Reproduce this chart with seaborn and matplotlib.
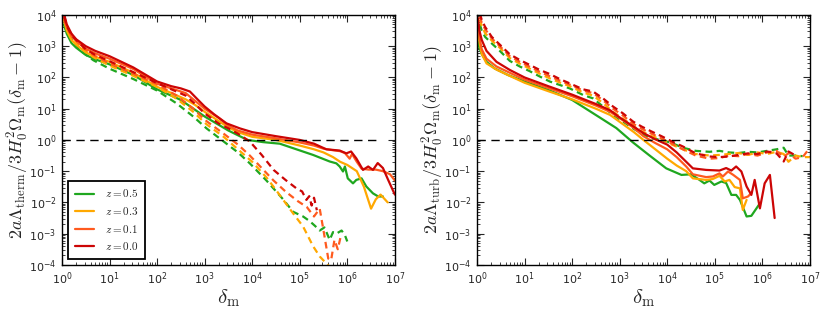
import numpy as np
import pandas as pd
import matplotlib
matplotlib.use("Agg")
import matplotlib.pyplot as plt
import seaborn as sns
from matplotlib.ticker import LogLocator, NullFormatter
from matplotlib.lines import Line2D

# redshift labels and colours
z_labels = ["0.5", "0.3", "0.1", "0.0"]
z_colors = {"0.5": "#1fa71f", "0.3": "#ffa800", "0.1": "#ff5a1e", "0.0": "#cc0505"}

# values, as log10(delta_m) and log10(y)
# ---- left panel: thermal, solid
therm_solid_05_lx = [0.04, 0.1, 0.2, 0.3, 0.5, 0.7, 1.0, 1.5, 2.0, 2.5, 3.0, 3.5, 3.9, 4.23, 4.58, 4.93, 5.28, 5.63,
                     5.77, 5.84, 5.91, 5.95, 6.01, 6.12, 6.19, 6.30, 6.40, 6.54, 6.65, 6.75]
therm_solid_05_ly = [3.7, 3.4, 3.1, 2.95, 2.72, 2.58, 2.42, 2.08, 1.62, 1.28, 0.75, 0.3, 0.0, -0.07, -0.12, -0.3, -0.48,
                     -0.69, -0.75, -0.85, -1.01, -0.85, -1.23, -1.39, -1.28, -1.23, -1.49, -1.71, -1.81, -1.81]
therm_solid_03_lx = [0.04, 0.1, 0.2, 0.3, 0.5, 0.7, 1.0, 1.5, 2.0, 2.3, 2.6, 2.8, 3.0, 3.3, 3.5, 3.7, 4.0, 4.5, 5.0,
                     5.3, 5.5, 5.7, 5.85, 6.0, 6.2, 6.35, 6.5, 6.6, 6.7, 6.85]
therm_solid_03_ly = [3.85, 3.5, 3.2, 3.05, 2.8, 2.66, 2.5, 2.15, 1.7, 1.5, 1.3, 1.12, 0.9, 0.6, 0.4, 0.25, 0.1, 0.0,
                     -0.18, -0.3, -0.4, -0.55, -0.7, -0.8, -1.0, -1.5, -2.2, -1.9, -1.75, -2.0]
therm_solid_01_lx = [0.04, 0.1, 0.2, 0.3, 0.5, 0.7, 1.0, 1.5, 2.0, 2.3, 2.6, 2.8, 3.0, 3.3, 3.5, 3.7, 4.0, 4.5, 5.0,
                     5.3, 5.5, 5.7, 5.85, 5.95, 6.05, 6.1, 6.2, 6.3, 6.45, 6.6, 6.75, 6.9, 7.0]
therm_solid_01_ly = [3.95, 3.62, 3.32, 3.17, 2.92, 2.77, 2.6, 2.27, 1.8, 1.65, 1.5, 1.25, 1.0, 0.7, 0.45, 0.3, 0.17,
                     0.05, -0.08, -0.18, -0.28, -0.33, -0.36, -0.42, -0.6, -0.45, -0.7, -0.92, -0.95, -0.95, -1.0,
                     -1.1, -1.3]
therm_solid_00_lx = [0.04, 0.1, 0.2, 0.3, 0.5, 0.7, 1.0, 1.5, 2.0, 2.3, 2.5, 2.69, 2.85, 3.0, 3.2, 3.46, 3.74, 4.0, 4.5,
                     5.0, 5.3, 5.56, 5.84, 5.98, 6.08, 6.19, 6.33, 6.44, 6.54, 6.64, 6.75, 6.86, 7.0]
therm_solid_00_ly = [4.05, 3.7, 3.4, 3.22, 3.0, 2.85, 2.68, 2.32, 1.87, 1.72, 1.65, 1.55, 1.3, 1.07, 0.82, 0.53, 0.37,
                     0.25, 0.12, 0.0, -0.12, -0.3, -0.34, -0.43, -0.37, -0.59, -0.96, -0.85, -0.96, -0.74, -0.9,
                     -1.28, -1.75]
# ---- left panel: thermal, dashed
therm_dash_05_lx = [0.05, 0.1, 0.24, 0.4, 0.66, 1.0, 1.5, 2.0, 2.41, 2.76, 3.04, 3.4, 3.7, 3.95, 4.3, 4.65, 4.86, 5.07,
                    5.21, 5.32, 5.42, 5.52, 5.63, 5.7, 5.77, 5.88, 5.95, 6.0]
therm_dash_05_ly = [3.7, 3.45, 3.15, 2.85, 2.55, 2.28, 1.95, 1.58, 1.17, 0.75, 0.37, -0.05, -0.4, -0.75, -1.3, -1.9,
                    -2.3, -2.45, -2.6, -2.75, -2.9, -2.8, -3.2, -2.95, -3.0, -2.9, -3.05, -3.25]
therm_dash_03_lx = [0.05, 0.1, 0.24, 0.4, 0.66, 1.0, 1.5, 2.0, 2.41, 2.76, 3.04, 3.4, 3.7, 4.0, 4.3, 4.5, 4.86, 5.07,
                    5.28, 5.42, 5.62]
therm_dash_03_ly = [3.8, 3.55, 3.25, 2.95, 2.65, 2.38, 2.05, 1.7, 1.32, 0.9, 0.5, 0.1, -0.3, -0.7, -1.2, -1.6, -2.35,
                    -2.77, -3.4, -3.73, -4.05]
therm_dash_01_lx = [0.05, 0.1, 0.24, 0.4, 0.66, 1.0, 1.5, 2.0, 2.41, 2.76, 3.04, 3.4, 3.7, 3.95, 4.2, 4.45, 4.7, 4.95,
                    5.15, 5.3, 5.42, 5.5, 5.6, 5.66, 5.73, 5.8, 5.86]
therm_dash_01_ly = [3.85, 3.6, 3.3, 3.0, 2.72, 2.45, 2.12, 1.78, 1.42, 1.0, 0.6, 0.2, -0.15, -0.5, -0.9, -1.3, -1.65,
                    -1.95, -2.15, -2.45, -2.2, -2.9, -3.8, -3.85, -3.2, -3.5, -3.1]
therm_dash_00_lx = [0.05, 0.1, 0.2, 0.3, 0.5, 0.7, 1.0, 1.5, 2.0, 2.3, 2.6, 2.8, 3.0, 3.3, 3.5, 3.7, 3.95, 4.2, 4.45,
                    4.7, 4.93, 5.05, 5.14, 5.2, 5.25, 5.3, 5.36]
therm_dash_00_ly = [3.95, 3.65, 3.35, 3.2, 2.9, 2.72, 2.52, 2.17, 1.82, 1.62, 1.42, 1.15, 0.85, 0.52, 0.37, 0.2, -0.05,
                    -0.48, -0.96, -1.28, -1.55, -1.65, -1.92, -1.8, -2.1, -1.85, -2.25]

# ---- right panel: turbulent, solid
turb_solid_05_lx = [0.02, 0.05, 0.1, 0.2, 0.37, 0.65, 1.0, 1.5, 2.0, 2.58, 2.93, 3.28, 3.63, 3.98, 4.3, 4.5, 4.68,
                    4.78, 4.89, 4.99, 5.14, 5.24, 5.35, 5.45, 5.53, 5.67, 5.77, 5.95]
turb_solid_05_ly = [3.15, 2.95, 2.75, 2.5, 2.29, 2.08, 1.87, 1.6, 1.28, 0.72, 0.38, -0.08, -0.5, -0.91, -1.12, -1.1,
                    -1.28, -1.39, -1.3, -1.44, -1.33, -1.38, -1.76, -1.76, -1.92, -2.45, -2.43, -2.03]
turb_solid_03_lx = [0.02, 0.05, 0.1, 0.2, 0.41, 0.69, 1.0, 1.5, 2.0, 2.5, 2.8, 3.0, 3.3, 3.5, 3.75, 4.0, 4.2, 4.4,
                    4.54, 4.82, 4.96, 5.1, 5.21, 5.31, 5.42, 5.53, 5.59, 5.67]
turb_solid_03_ly = [3.5, 3.15, 2.75, 2.45, 2.25, 2.05, 1.83, 1.56, 1.3, 1.0, 0.8, 0.58, 0.25, 0.0, -0.3, -0.6, -0.82,
                    -1.0, -1.23, -1.28, -1.25, -1.15, -1.33, -1.28, -1.51, -1.55, -2.24, -1.92]
turb_solid_01_lx = [0.02, 0.05, 0.1, 0.2, 0.41, 0.69, 1.0, 1.5, 2.0, 2.5, 2.8, 3.0, 3.3, 3.5, 3.75, 4.0, 4.2, 4.4,
                    4.54, 4.82, 4.96, 5.1, 5.17, 5.28, 5.39, 5.53, 5.59, 5.7, 5.77]
turb_solid_01_ly = [3.75, 3.3, 2.9, 2.6, 2.35, 2.15, 1.93, 1.66, 1.4, 1.1, 0.9, 0.7, 0.38, 0.12, -0.1, -0.3, -0.55,
                    -0.85, -1.1, -1.19, -1.17, -1.07, -1.17, -1.01, -1.12, -1.28, -1.87, -1.81, -1.7]
turb_solid_00_lx = [0.02, 0.05, 0.1, 0.2, 0.41, 0.69, 1.0, 1.5, 2.0, 2.5, 2.8, 3.0, 3.3, 3.5, 3.75, 4.0, 4.2, 4.4,
                    4.54, 4.82, 5.1, 5.24, 5.35, 5.45, 5.56, 5.67, 5.77, 5.84, 5.95, 6.05, 6.16, 6.26]
turb_solid_00_ly = [3.9, 3.5, 3.2, 2.85, 2.5, 2.24, 2.0, 1.72, 1.45, 1.15, 0.95, 0.72, 0.42, 0.22, 0.02, -0.15, -0.4,
                    -0.7, -0.91, -0.96, -0.98, -0.9, -0.98, -0.85, -1.01, -1.49, -1.76, -1.28, -2.19, -1.39, -1.12,
                    -2.5]
# ---- right panel: turbulent, dashed
turb_dash_lx = [0.06, 0.1, 0.17, 0.31, 0.48, 0.69, 0.9, 1.11, 1.32, 1.53, 1.74, 1.95, 2.23, 2.44, 2.65, 2.86, 3.07,
                3.28, 3.46, 3.67, 3.88, 4.1, 4.33, 4.6, 4.89, 5.1, 5.3, 5.5, 5.7, 5.9, 6.1, 6.3, 6.45, 6.55, 6.7,
                6.85, 7.0]
turb_dash_05_ly = [3.7, 3.5, 3.3, 3.09, 2.85, 2.53, 2.35, 2.2, 2.03, 1.87, 1.76, 1.65, 1.44, 1.33, 1.07, 0.8, 0.59,
                   0.37, 0.21, 0.05, 0.0, -0.1, -0.25, -0.35, -0.38, -0.35, -0.4, -0.42, -0.38, -0.4, -0.35, -0.3,
                   -0.25, -0.5, -0.5, -0.52, np.nan]
turb_dash_03_ly = [3.85, 3.65, 3.42, 3.18, 2.95, 2.62, 2.44, 2.28, 2.12, 1.97, 1.84, 1.72, 1.52, 1.42, 1.18, 0.9,
                   0.68, 0.45, 0.28, 0.12, 0.02, -0.15, -0.3, -0.45, -0.5, -0.48, -0.45, -0.42, -0.48, -0.4, -0.45,
                   -0.38, -0.45, -0.7, -0.5, -0.55, -0.55]
turb_dash_01_ly = [3.95, 3.75, 3.55, 3.25, 3.0, 2.68, 2.5, 2.34, 2.18, 2.04, 1.9, 1.77, 1.58, 1.5, 1.27, 1.0, 0.78,
                   0.52, 0.36, 0.2, 0.05, -0.12, -0.3, -0.5, -0.6, -0.58, -0.5, -0.52, -0.45, -0.5, -0.4, -0.35,
                   -0.55, -0.42, -0.6, -0.55, -0.25]
turb_dash_00_ly = [4.05, 3.84, 3.62, 3.3, 3.05, 2.74, 2.56, 2.4, 2.24, 2.11, 1.95, 1.81, 1.62, 1.55, 1.33, 1.07, 0.85,
                   0.59, 0.43, 0.27, 0.12, -0.05, -0.21, -0.43, -0.53, -0.55, -0.53, -0.48, -0.43, -0.45, -0.37,
                   -0.43, -0.69, -0.37, -0.5, np.nan, np.nan]


def long_frame(curves):
    rows = []
    for (z, kind), (lx, ly) in curves.items():
        for a, b in zip(lx, ly):
            if not np.isnan(b):
                rows.append({"x": 10.0 ** a, "y": 10.0 ** b, "z": z, "kind": kind})
    return pd.DataFrame(rows)


therm_df = long_frame({
    ("0.5", "sim"): (therm_solid_05_lx, therm_solid_05_ly),
    ("0.3", "sim"): (therm_solid_03_lx, therm_solid_03_ly),
    ("0.1", "sim"): (therm_solid_01_lx, therm_solid_01_ly),
    ("0.0", "sim"): (therm_solid_00_lx, therm_solid_00_ly),
    ("0.5", "model"): (therm_dash_05_lx, therm_dash_05_ly),
    ("0.3", "model"): (therm_dash_03_lx, therm_dash_03_ly),
    ("0.1", "model"): (therm_dash_01_lx, therm_dash_01_ly),
    ("0.0", "model"): (therm_dash_00_lx, therm_dash_00_ly),
})
turb_df = long_frame({
    ("0.5", "sim"): (turb_solid_05_lx, turb_solid_05_ly),
    ("0.3", "sim"): (turb_solid_03_lx, turb_solid_03_ly),
    ("0.1", "sim"): (turb_solid_01_lx, turb_solid_01_ly),
    ("0.0", "sim"): (turb_solid_00_lx, turb_solid_00_ly),
    ("0.5", "model"): (turb_dash_lx, turb_dash_05_ly),
    ("0.3", "model"): (turb_dash_lx, turb_dash_03_ly),
    ("0.1", "model"): (turb_dash_lx, turb_dash_01_ly),
    ("0.0", "model"): (turb_dash_lx, turb_dash_00_ly),
})

sns.set_style("ticks")
plt.rcParams["mathtext.fontset"] = "cm"
plt.rcParams["axes.unicode_minus"] = False
plt.rcParams["font.family"] = ["DejaVu Sans"]

fig = plt.figure(figsize=(8.3, 3.12), dpi=100)
ax1 = fig.add_axes([0.0747, 0.151, 0.401, 0.801])
ax2 = fig.add_axes([0.5747, 0.151, 0.401, 0.801])

ylabels = [r"$2a\Lambda_{\rm therm}/3H_0^2\Omega_{\rm m}(\delta_{\rm m}-1)$",
           r"$2a\Lambda_{\rm turb}/3H_0^2\Omega_{\rm m}(\delta_{\rm m}-1)$"]

for ax, df, ylab in zip([ax1, ax2], [therm_df, turb_df], ylabels):
    ax.set_xscale("log")
    ax.set_yscale("log")
    sns.lineplot(data=df, x="x", y="y", hue="z", style="kind", hue_order=z_labels,
                 style_order=["sim", "model"], dashes={"sim": "", "model": (3, 2)},
                 palette=z_colors, estimator=None, sort=False, lw=1.6, legend=False, ax=ax)
    ax.plot([1, 5e6], [1, 1], color="black", lw=1.0, ls=(0, (6, 4)))
    ax.set_xlim(1, 1e7)
    ax.set_ylim(1e-4, 1e4)
    ax.xaxis.set_major_locator(LogLocator(base=10, numticks=20))
    ax.yaxis.set_major_locator(LogLocator(base=10, numticks=20))
    ax.xaxis.set_minor_locator(LogLocator(base=10, subs=np.arange(2, 10), numticks=100))
    ax.yaxis.set_minor_locator(LogLocator(base=10, subs=np.arange(2, 10), numticks=100))
    ax.xaxis.set_minor_formatter(NullFormatter())
    ax.yaxis.set_minor_formatter(NullFormatter())
    ax.tick_params(which="both", direction="in", top=True, right=True, labelsize=8, pad=4)
    ax.tick_params(which="major", length=5, width=0.8)
    ax.tick_params(which="minor", length=2.5, width=0.6)
    for sp in ax.spines.values():
        sp.set_linewidth(1.0)
        sp.set_color("black")
    ax.set_xlabel(r"$\delta_{\rm m}$", fontsize=15, labelpad=0)
    ax.set_ylabel(ylab, fontsize=13, labelpad=-1)

handles = [Line2D([0], [0], color=z_colors[z], lw=1.6) for z in z_labels]
leg = ax1.legend(handles, [f"$z={z}$" for z in z_labels], loc="lower left", fontsize=8,
                 frameon=True, fancybox=False, framealpha=1, edgecolor="black",
                 handlelength=1.75, handletextpad=1.0, borderpad=0.6, labelspacing=0.5,
                 borderaxespad=0.55)
leg.get_frame().set_linewidth(1.3)

fig.savefig("out.png", dpi=100)
